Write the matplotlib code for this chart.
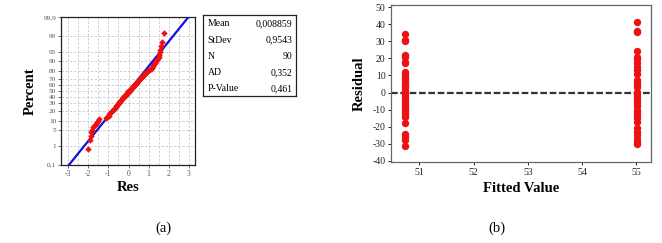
import numpy as np
import matplotlib
matplotlib.use("Agg")
import matplotlib.pyplot as plt
from statistics import NormalDist

# ---------------- data ----------------
# (a) normal probability plot of residuals (sorted)
res = [-2.00, -1.93, -1.88, -1.84, -1.80, -1.74, -1.68, -1.62, -1.57, -1.53, -1.48,
       -1.12, -1.05, -0.99, -0.95, -0.90, -0.86, -0.83, -0.79, -0.75, -0.71,
       -0.68, -0.64, -0.61, -0.58, -0.55, -0.52, -0.49, -0.46, -0.43, -0.40,
       -0.37, -0.34, -0.31, -0.28, -0.25, -0.22, -0.19, -0.16, -0.12, -0.09,
       -0.07, -0.05, -0.04, -0.02,
       0.05, 0.08, 0.10, 0.13, 0.16, 0.19, 0.22, 0.25, 0.28, 0.31,
       0.34, 0.37, 0.40, 0.44, 0.47, 0.50, 0.54, 0.57, 0.61, 0.64,
       0.68, 0.72, 0.76, 0.80, 0.84, 0.88, 0.93, 0.98, 1.04, 1.10,
       1.15, 1.20, 1.24, 1.28, 1.33, 1.38, 1.42, 1.46, 1.49,
       1.52, 1.55, 1.58, 1.62, 1.66, 1.76]
stat_labels = ["Mean", "StDev", "N", "AD", "P-Value"]
stat_values = ["0,008859", "0,9543", "90", "0,352", "0,461"]
fit_mean = 0.008859
fit_sd = 0.9543
pct_ticks = [0.1, 1, 5, 10, 20, 30, 40, 50, 60, 70, 80, 90, 95, 99, 99.9]
pct_labels = ["0,1", "1", "5", "10", "20", "30", "40", "50", "60", "70", "80", "90", "95", "99", "99,9"]
res_ticks = [-3, -2, -1, 0, 1, 2, 3]

# (b) residuals versus fits
fitted_low = 50.74
fitted_high = 55.01
resid_low = [34.5, 31, 30, 22, 21, 18, 17, 12, 10.5, 9, 8, 6.5, 5, 4, 3, 1.5, 0,
             -1, -2.5, -4, -5.5, -6.5, -8, -9.5, -10.5, -12, -13, -14, -18,
             -24.5, -26, -27.5, -31]
resid_high = [41.5, 36, 35.5, 24.5, 21, 19.5, 17.5, 15, 13, 11, 7.5, 6, 4.5, 3,
              0.5, -1, -2.5, -4.5, -6, -8, -10, -11.5, -13, -15, -17.5, -21,
              -23, -25, -27, -29, -30]
fit_ticks = [51, 52, 53, 54, 55]
resid_ticks = [-40, -30, -20, -10, 0, 10, 20, 30, 40, 50]

# ---------------- figure ----------------
W, H = 662, 243
fig = plt.figure(figsize=(W / 100, H / 100), dpi=100)
serif = "Liberation Serif"

def frac(x0, y0, x1, y1):
    return [x0 / W, 1 - y1 / H, (x1 - x0) / W, (y1 - y0) / H]

nd = NormalDist()
ppf = lambda p: nd.inv_cdf(p)

# ---- panel (a) ----
axa = fig.add_axes(frac(61, 17, 195, 165))
n = len(res)
srt = np.sort(np.array(res))
zpos = [ppf((i + 1 - 0.3) / (n + 0.4)) for i in range(n)]
xl = np.linspace(-3.5, 3.5, 50)
axa.plot(xl, (xl - fit_mean) / fit_sd, color="#1010e0", lw=1.6, zorder=3)
axa.scatter(srt, zpos, s=11, color="#ee1111", marker="D", lw=0, zorder=4)
ylo, yhi = ppf(0.001), ppf(0.999)
axa.set_ylim(ylo - 0.02, yhi + 0.02)
axa.set_xlim(-3.35, 3.30)
ztick = [ppf(p / 100) for p in pct_ticks]
axa.set_yticks(ztick)
axa.set_yticklabels(pct_labels, family=serif, fontsize=5.2, color="#555555")
axa.set_xticks(res_ticks)
axa.set_xticklabels([str(t) for t in res_ticks], family=serif, fontsize=5.5, color="#555555")
for g in np.arange(-3.0, 3.01, 0.5):
    axa.axvline(g, color="#c8c8c8", lw=0.6, ls=(0, (3, 2)), zorder=1)
for z in ztick:
    axa.axhline(z, color="#c8c8c8", lw=0.6, ls=(0, (3, 2)), zorder=1)
axa.tick_params(length=2, width=0.6, pad=1.5, colors="#555555")
for s in axa.spines.values():
    s.set_linewidth(0.9)
    s.set_color("#222222")
axa.set_ylabel("Percent", family=serif, fontsize=10.5, fontweight="bold", labelpad=5)
axa.set_xlabel("Res", family=serif, fontsize=10.5, fontweight="bold", labelpad=2)

# stats box
axs = fig.add_axes(frac(203, 15, 296, 96))
axs.set_xlim(0, 1)
axs.set_ylim(0, 1)
axs.set_xticks([])
axs.set_yticks([])
for s in axs.spines.values():
    s.set_linewidth(0.9)
    s.set_color("#222222")
for k, (lab, val) in enumerate(zip(stat_labels, stat_values)):
    yy = 1 - (k + 0.55) / len(stat_labels)
    axs.text(0.05, yy, lab, family=serif, fontsize=7, va="center", ha="left")
    axs.text(0.96, yy, val, family=serif, fontsize=7, va="center", ha="right")

# ---- panel (b) ----
axb = fig.add_axes(frac(391, 5, 651, 162))
axb.scatter([fitted_low] * len(resid_low), resid_low, s=28, color="#ee1111", lw=0, zorder=3)
axb.scatter([fitted_high] * len(resid_high), resid_high, s=28, color="#ee1111", lw=0, zorder=3)
axb.axhline(0, color="#333333", lw=1.6, ls=(0, (3, 1.2)), zorder=2)
axb.set_xlim(50.48, 55.27)
axb.set_ylim(-40.6, 51.2)
axb.set_xticks(fit_ticks)
axb.set_xticklabels([str(t) for t in fit_ticks], family=serif, fontsize=7)
axb.set_yticks(resid_ticks)
axb.set_yticklabels([str(t) for t in resid_ticks], family=serif, fontsize=7)
axb.tick_params(length=2.5, width=0.7, pad=1.5, colors="#222222")
for s in axb.spines.values():
    s.set_linewidth(0.9)
    s.set_color("#666666")
axb.set_ylabel("Residual", family=serif, fontsize=10.5, fontweight="bold", labelpad=5)
axb.set_xlabel("Fitted Value", family=serif, fontsize=10.5, fontweight="bold", labelpad=4)

# captions
fig.text(163 / W, 1 - 228 / H, "(a)", family=serif, fontsize=10.5, ha="center", va="center")
fig.text(497 / W, 1 - 228 / H, "(b)", family=serif, fontsize=10.5, ha="center", va="center")

fig.savefig("out.png", dpi=100)
